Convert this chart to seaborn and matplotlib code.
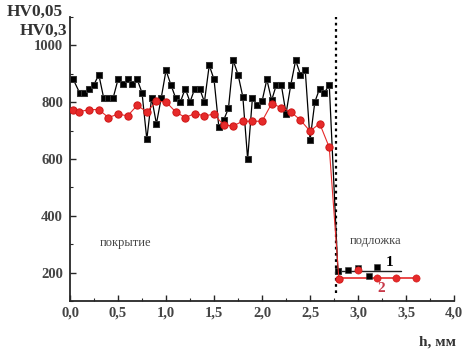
import numpy as np
import pandas as pd
import matplotlib
matplotlib.use('Agg')
import matplotlib.pyplot as plt
from matplotlib.ticker import MultipleLocator, FormatStrFormatter
import seaborn as sns

# series 1 (HV0,05) - coating
h1 = [0.03, 0.10, 0.15, 0.20, 0.25, 0.30, 0.35, 0.40, 0.45, 0.50, 0.55, 0.60, 0.65, 0.70,
      0.75, 0.80, 0.85, 0.90, 0.95, 1.00, 1.05, 1.10, 1.15, 1.20, 1.25, 1.30, 1.35, 1.40,
      1.45, 1.50, 1.55, 1.60, 1.65, 1.70, 1.75, 1.80, 1.85, 1.90, 1.95, 2.00, 2.05, 2.10,
      2.15, 2.20, 2.25, 2.30, 2.35, 2.40, 2.45, 2.50, 2.55, 2.60, 2.65, 2.70, 2.79]
hv1 = [883, 833, 833, 848, 862, 897, 816, 816, 816, 880, 863, 880, 863, 880,
       833, 669, 815, 724, 815, 912, 862, 815, 801, 848, 801, 848, 848, 801,
       930, 880, 713, 737, 778, 947, 897, 819, 600, 815, 789, 803, 880, 807,
       862, 862, 760, 862, 947, 897, 912, 667, 801, 848, 833, 862, 207]
# series 1 - substrate
h1_sub = [2.90, 3.00, 3.11, 3.20]
hv1_sub = [210, 216, 190, 221]
level1 = 205

# series 2 (HV0,3) - coating
h2 = [0.03, 0.09, 0.20, 0.30, 0.40, 0.50, 0.60, 0.70, 0.80, 0.90, 1.00, 1.10, 1.20, 1.30,
      1.40, 1.50, 1.60, 1.70, 1.80, 1.90, 2.00, 2.10, 2.20, 2.30, 2.40, 2.50, 2.60, 2.70, 2.80]
hv2 = [774, 766, 774, 774, 746, 758, 752, 789, 766, 803, 801, 766, 746, 760,
       752, 758, 719, 717, 733, 733, 733, 795, 781, 766, 737, 698, 725, 641, 178]
# series 2 - substrate
h2_sub = [3.00, 3.20, 3.40, 3.60]
hv2_sub = [210, 182, 182, 180]
level2 = 180

boundary = 2.77

sns.set_style('ticks')
plt.rcParams['font.family'] = ['Liberation Serif', 'DejaVu Serif']

fig = plt.figure(figsize=(4.73, 3.53), dpi=100)
ax = fig.add_axes([0.148, 0.147, 0.812, 0.805])

red = '#e62a2a'

# boundary coating / substrate
ax.axvline(boundary, color='black', ls=(0, (1.2, 1.6)), lw=1.6, ymin=0.03, zorder=1)

# guide lines in substrate
ax.plot([h1[-1], 3.45], [level1, level1], color='#222222', lw=1.0, zorder=2)
ax.plot([h2[-1], h2_sub[-1]], [level2, level2], color=red, lw=1.2, zorder=2)

sns.lineplot(x=h1, y=hv1, ax=ax, sort=False, color='black', lw=0.9,
             marker='s', markersize=4.8, markeredgecolor='#333333', zorder=3)
sns.scatterplot(x=h1_sub, y=hv1_sub, ax=ax, color='black', marker='s', s=22,
                edgecolor='#333333', zorder=3)
sns.lineplot(x=h2, y=hv2, ax=ax, sort=False, color=red, lw=0.8,
             marker='o', markersize=5.2, markeredgecolor='#d01818', zorder=4)
sns.scatterplot(x=h2_sub, y=hv2_sub, ax=ax, color=red, marker='o', s=27,
                edgecolor='#d01818', zorder=4)

ax.set_xlim(0, 4.0)
ax.set_ylim(100, 1100)
ax.xaxis.set_major_locator(MultipleLocator(0.5))
ax.xaxis.set_minor_locator(MultipleLocator(0.25))
ax.yaxis.set_major_locator(MultipleLocator(200))
ax.yaxis.set_minor_locator(MultipleLocator(100))
ax.xaxis.set_major_formatter(FormatStrFormatter('%.1f'))
ax.set_xticklabels([t.replace('.', ',') for t in ['%.1f' % v for v in ax.get_xticks()]])
ax.set_yticks([200, 400, 600, 800, 1000])
ax.set_yticklabels(['200', '400', '600', '800', '1000'])

ax.tick_params(which='major', direction='in', length=4, width=1, labelsize=10.5,
               labelcolor='#444444', pad=5)
ax.tick_params(axis='x', which='major', pad=4)
ax.tick_params(which='minor', direction='in', length=2.5, width=0.8)
for lab in ax.get_xticklabels() + ax.get_yticklabels():
    lab.set_fontweight('bold')
sns.despine(ax=ax)
for s in ['left', 'bottom']:
    ax.spines[s].set_linewidth(1.3)

ax.set_xlabel('')
ax.set_ylabel('')

fig.text(0.015, 0.965, 'HV0,05', fontsize=12.5, fontweight='bold', color='#333333', va='center')
fig.text(0.042, 0.913, 'HV0,3', fontsize=12.5, fontweight='bold', color='#333333', va='center')
fig.text(0.965, 0.03, 'h, мм', fontsize=11, fontweight='bold', color='#333333',
         ha='right', va='center')

ax.text(0.58, 305, 'покрытие', fontsize=9, color='#444444', ha='center', va='center')
ax.text(3.18, 312, 'подложка', fontsize=9, color='#444444', ha='center', va='center')
ax.text(3.33, 236, '1', fontsize=11, fontweight='bold', color='black', ha='center', va='center')
ax.text(3.24, 146, '2', fontsize=11, fontweight='bold', color='#c83a4a', ha='center', va='center')

fig.savefig('out.png', dpi=100)
